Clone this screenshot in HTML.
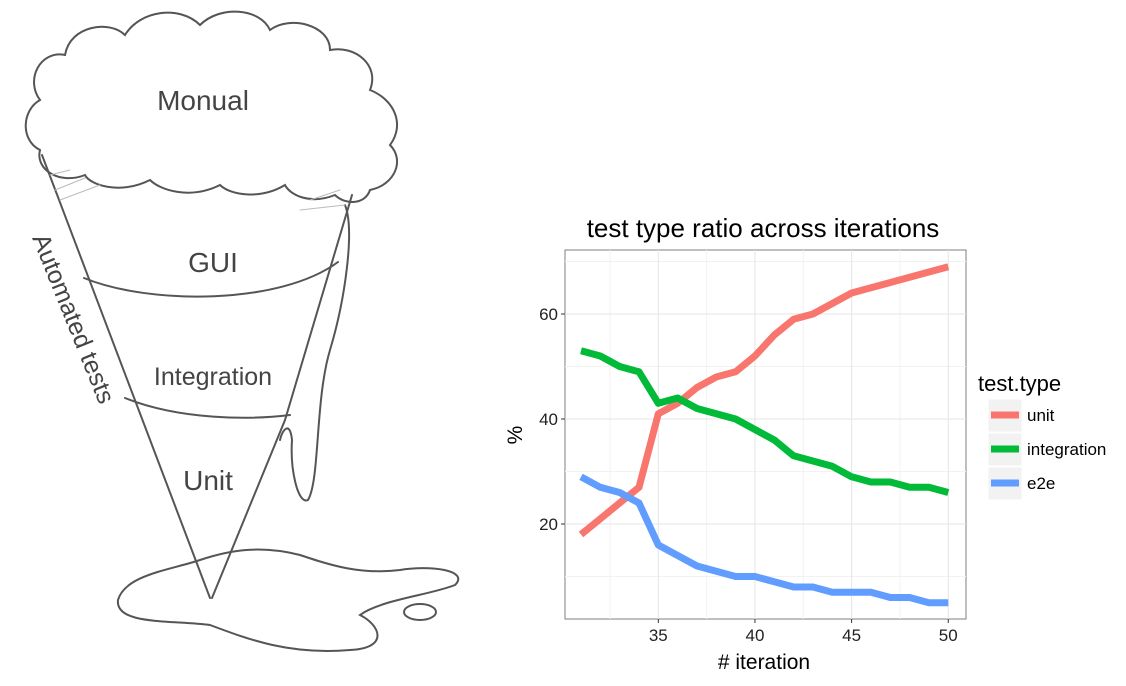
<!DOCTYPE html>
<html><head><meta charset="utf-8"><style>
html,body{margin:0;padding:0;background:#fff;}
svg{display:block;font-family:"Liberation Sans",sans-serif;}
</style></head><body>
<svg id="root" width="1126" height="686" viewBox="0 0 1126 686">
<g fill="none" stroke="#555" stroke-width="2" stroke-linecap="round">
  <path d="M40,150 C20,140 22,110 40,100 C25,80 40,50 65,55 C70,25 110,20 125,35 C140,10 180,5 200,25 C220,5 260,8 270,30 C290,15 330,25 330,50 C355,45 380,65 370,90 C395,100 405,125 390,145 C405,160 395,185 370,190 C365,205 345,205 335,195 C310,205 290,195 285,185 C260,200 230,195 220,185 C190,200 160,190 150,180 C120,195 90,185 85,175 C60,185 35,170 40,150 Z"/>
  <path d="M42,155 L210,598"/>
  <path d="M352,195 L285,420 L212,598"/>
  <path d="M84,278 C150,305 280,305 338,262"/>
  <path d="M125,398 C180,420 250,420 290,415"/>
  <path d="M345,205 C355,230 345,300 330,350 C315,400 320,480 308,500 C298,505 290,470 292,440 C290,420 282,430 280,440"/>
  <path d="M200,560 C170,570 125,575 118,600 C115,625 170,620 210,625 C250,640 290,655 350,650 C390,648 380,625 360,615 C380,600 430,595 455,585 C470,570 430,565 400,570 C360,575 330,565 300,555 C260,545 230,550 200,560 Z"/>
  <ellipse cx="420" cy="612" rx="16" ry="8"/>
  <path stroke="#bbb" stroke-width="1" d="M50,175 L70,170 M55,190 L85,178 M60,200 L100,185 M310,200 L340,190 M300,210 L345,205"/>
</g>
<g fill="#444" font-size="28">
  <text x="203" y="110" text-anchor="middle">Monual</text>
  <text x="213" y="272" text-anchor="middle">GUI</text>
  <text x="213" y="385" text-anchor="middle" font-size="25">Integration</text>
  <text x="208" y="490" text-anchor="middle">Unit</text>
  <text x="0" y="0" font-size="25" transform="translate(32,238) rotate(68)">Automated tests</text>
</g>
<text x="763" y="237" text-anchor="middle" font-size="26" fill="#000">test type ratio across iterations</text>
<g id="chart"></g>
<g>
  <text x="978" y="391" font-size="22" fill="#000">test.type</text>
</g>
<g id="legendEntries"></g>
</svg>
<script>
const iterations=[31,32,33,34,35,36,37,38,39,40,41,42,43,44,45,46,47,48,49,50];
const unitVals=[18,21,24,27,41,43,46,48,49,52,56,59,60,62,64,65,66,67,68,69];
const integrationVals=[53,52,50,49,43,44,42,41,40,38,36,33,32,31,29,28,28,27,27,26];
const e2eVals=[29,27,26,24,16,14,12,11,10,10,9,8,8,7,7,7,6,6,5,5];
const xTicks=[35,40,45,50];
const yTicks=[20,40,60];
const seriesNames=["unit","integration","e2e"];
const seriesColors=["#F8766D","#00BA38","#619CFF"];
</script>
<script>
const NS="http://www.w3.org/2000/svg";
const L=565,R=966,T=250,B=619;
const sx=v=>658.3+(v-35)*19.33;
const sy=v=>419-(v-40)*5.25;
const g=document.getElementById('chart');
function mk(tag,attrs,parent){const e=document.createElementNS(NS,tag);for(const k in attrs)e.setAttribute(k,attrs[k]);(parent||g).appendChild(e);return e;}
const bg=mk('rect',{x:L,y:T,width:R-L,height:B-T,fill:'#fff',stroke:'#7f7f7f','stroke-width':1});


for(let v=32.5;v<=50;v+=5){const l=mk('line',{x1:sx(v),x2:sx(v),y1:T,y2:B,stroke:'#f2f2f2','stroke-width':1});}
for(const v of [10,30,50,70]){const l=mk('line',{x1:L,x2:R,y1:sy(v),y2:sy(v),stroke:'#f2f2f2','stroke-width':1});}
xTicks.forEach(v=>{
 const l=mk('line',{x1:sx(v),x2:sx(v),y1:T,y2:B,stroke:'#e5e5e5','stroke-width':1});
 
 
 const t=mk('line',{x1:sx(v),x2:sx(v),y1:B,y2:B+4,stroke:'#333'});
 
 
 const tx=mk('text',{x:sx(v),y:B+22,'text-anchor':'middle','font-size':17,fill:'#222'});
 tx.textContent=v;
 
 
});
yTicks.forEach(v=>{
 const l=mk('line',{x1:L,x2:R,y1:sy(v),y2:sy(v),stroke:'#e5e5e5','stroke-width':1});
 
 
 const t=mk('line',{x1:L-4,x2:L,y1:sy(v),y2:sy(v),stroke:'#333'});
 
 
 const tx=mk('text',{x:L-7,y:sy(v)+6,'text-anchor':'end','font-size':17,fill:'#222'});
 tx.textContent=v;
 
 
});
const xl=mk('text',{x:764,y:669,'text-anchor':'middle','font-size':21,fill:'#000'});
xl.textContent='# iteration';


const yl=mk('text',{x:0,y:0,'text-anchor':'middle','font-size':21,fill:'#000',transform:'translate(522,435) rotate(-90)'});
yl.textContent='%';


[unitVals,integrationVals,e2eVals].forEach((vals,i)=>{
 const d=iterations.map((x,j)=>(j?'L':'M')+sx(x).toFixed(1)+','+sy(vals[j]).toFixed(1)).join(' ');
 const p=mk('path',{d:d,fill:'none',stroke:seriesColors[i],'stroke-width':7,'stroke-linejoin':'round'});
 
 
});
const lg=document.getElementById('legendEntries');
seriesNames.forEach((n,i)=>{
 const y=415+i*34;
 const r=mk('rect',{x:988,y:y-16,width:34,height:33,fill:'#f2f2f2',stroke:'#fff'},lg);
 
 
 const l=mk('line',{x1:991,x2:1019,y1:y,y2:y,stroke:seriesColors[i],'stroke-width':7},lg);
 
 
 const t=mk('text',{x:1027,y:y+6,'font-size':17,fill:'#000'},lg);
 t.textContent=n;
 
 
});
</script>
</body></html>
